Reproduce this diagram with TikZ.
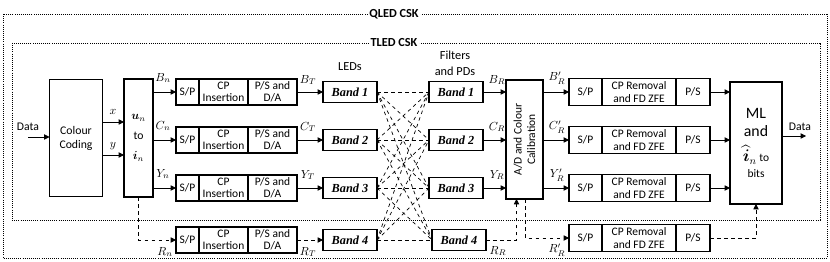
\documentclass[tikz,border=0pt]{standalone}
\usepackage{fontspec}
\setmainfont{Carlito}
\newfontfamily\bandfont{Liberation Serif}
\usepackage{amsmath}
\usetikzlibrary{arrows.meta,positioning}

\begin{document}
\begin{tikzpicture}[x=0.3mm,y=-0.3mm,
  blk/.style={draw, line width=1.3pt, outer sep=0pt, inner sep=0pt, align=center, font=\fontsize{9.8}{10.5}\selectfont},
  txbox/.style={blk, minimum height=26*0.3mm},
  rxbox/.style={blk, minimum height=27*0.3mm},
  band/.style={blk, minimum width=54*0.3mm, minimum height=21*0.3mm, font=\bandfont\bfseries\itshape\fontsize{10.5}{11}\selectfont},
  sig/.style={-{Triangle[length=4.5pt,width=4.5pt]}, line width=0.7pt},
  sigd/.style={sig, dashed},
  lbl/.style={font=\fontsize{10}{11}\selectfont, inner sep=0pt},
  frame/.style={densely dotted, line width=0.8pt},
  ttl/.style={fill=white, inner sep=1.5pt, font=\bfseries\fontsize{10.5}{12}\selectfont}]
\useasboundingbox (0,0) rectangle (830,262);

% QLED / TLED frames
\draw[frame] (3,14) rectangle (827,258);
\draw[frame] (12,43) rectangle (820,220);
\node[ttl] (qled) at (394,14) {QLED CSK};
\node[ttl] (tled) at (394,43) {TLED CSK};

% source side
\node[blk, minimum width=53*0.3mm, minimum height=117*0.3mm, font=\fontsize{10}{12}\selectfont] (cc) at (76,138) {Colour\\Coding};
\node[blk, minimum width=29*0.3mm, minimum height=118*0.3mm, font=\fontsize{10}{12}\selectfont] (map) at (138.5,138) {$\boldsymbol{u}_n$\\[5pt]to\\[5pt]$\boldsymbol{i}_n$};
\coordinate (din) at (28,137);
\node[lbl] (dinl) at (28,127) {Data};
\draw[sig] (din) -- (din -| cc.west);
\draw[sig] (cc.east |- 0,122) -- (map.west |- 0,122);
\draw[sig] (cc.east |- 0,155) -- (map.west |- 0,155);
\node[lbl] (xl) at (113,112) {$x$};
\node[lbl] (yl) at (113,146) {$y$};

% transmitter rows, LEDs and PDs
\foreach \i/\r/\p in {1/92/456,2/140/456,3/188/456,4/240/459} {
  \node[txbox, minimum width=23*0.3mm] (sp\i) at (187.5,\r) {S/P};
  \node[txbox, minimum width=49*0.3mm, right=0pt of sp\i] (cp\i) {CP\\Insertion};
  \node[txbox, minimum width=49*0.3mm, right=0pt of cp\i] (ps\i) {P/S and\\D/A};
  \node[band] (led\i) at (350,\r) {Band \i};
  \node[band] (pd\i) at (\p,\r) {Band \i};
}
\foreach \i in {1,2,3} {
  \draw[sig] (map.east |- sp\i.west) -- (sp\i.west);
  \draw[sig] (ps\i.east) -- (led\i.west);
}
\draw[sigd] (map.south) |- (sp4.west);
\draw[sigd] (ps4.east) -- (led4.west);
\foreach \i in {1,...,4}
  \foreach \j in {1,...,4}
    \draw[dashed, line width=0.6pt] (led\i.east) -- (pd\j.west);

\node[lbl] (bn) at (163,78) {$B_n$};
\node[lbl] (cn) at (163,126) {$C_n$};
\node[lbl] (yn) at (163,174) {$Y_n$};
\node[lbl] (rn) at (165,252) {$R_n$};
\node[lbl] (bt) at (308,80) {$B_T$};
\node[lbl] (ct) at (308,127) {$C_T$};
\node[lbl] (yt) at (308,175) {$Y_T$};
\node[lbl] (rt) at (308,252) {$R_T$};
\node[lbl, font=\fontsize{10.5}{11}\selectfont] (leds) at (350,67) {LEDs};
\node[lbl, font=\fontsize{10.5}{14}\selectfont, align=center] (pds) at (455,63) {Filters\\and PDs};

% calibration
\node[blk, rotate=90, minimum width=119*0.3mm, minimum height=37*0.3mm, font=\fontsize{9.8}{11.5}\selectfont] (ad) at (524.5,139.5) {A/D and Colour\\Calibration};
\foreach \i in {1,2,3}
  \draw[sig] (pd\i.east) -- (ad.north |- pd\i.east);
\path (ad.west) ++(-8,0) coordinate (adin);
\path (ad.west) ++(1,0) coordinate (adout);
\draw[sigd] (pd4.east) -| (adin);
\node[lbl] (br) at (497,80) {$B_R$};
\node[lbl] (cr) at (497,127) {$C_R$};
\node[lbl] (yr) at (497,175) {$Y_R$};
\node[lbl] (rr) at (498,251) {$R_R$};

% receiver rows
\foreach \i/\r in {1/92,2/140,3/188,4/238} {
  \node[rxbox, minimum width=33*0.3mm] (rsp\i) at (585.5,\r) {S/P};
  \node[rxbox, minimum width=74*0.3mm, right=0pt of rsp\i] (rcp\i) {CP Removal\\and FD ZFE};
  \node[rxbox, minimum width=34*0.3mm, right=0pt of rcp\i] (rps\i) {P/S};
}
\node[blk, minimum width=52*0.3mm, minimum height=122*0.3mm, font=\fontsize{13.5}{15}\selectfont] (ml) at (756,143)
  {ML\\[1pt]and\\[6pt]$\widehat{\boldsymbol{i}}_n$\,{\fontsize{9.8}{11}\selectfont to}\\[-1pt]{\fontsize{9.8}{11}\selectfont bits}};
\foreach \i in {1,2,3} {
  \draw[sig] (ad.south |- rsp\i.west) -- (rsp\i.west);
  \draw[sig] (rps\i.east) -- (ml.west |- rps\i.east);
}
\draw[sigd] (adout) |- (rsp4.west);
\draw[sigd] (rps4.east) -| (ml.south);
\coordinate (dout) at (806,136);
\draw[sig] (ml.east |- dout) -- (dout);
\node[lbl] (doutl) at (800,127) {Data};
\node[lbl] (bpr) at (557,78) {$B'_R$};
\node[lbl] (cpr) at (557,127) {$C'_R$};
\node[lbl] (ypr) at (557,175) {$Y'_R$};
\node[lbl] (rpr) at (557,250) {$R'_R$};
\end{tikzpicture}
\end{document}
